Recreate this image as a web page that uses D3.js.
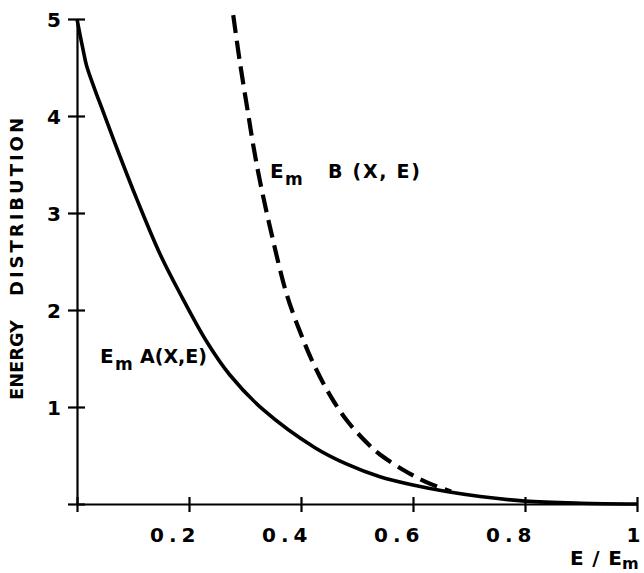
<!DOCTYPE html>
<html>
<head>
<meta charset="utf-8">
<script src="https://cdn.jsdelivr.net/npm/d3@7"></script>
<style>
  html, body { margin: 0; padding: 0; background: #fff; }
  svg { display: block; }
  text { font-family: "DejaVu Sans", sans-serif; font-weight: bold; fill: #000; }
</style>
</head>
<body>
<svg id="chart" width="644" height="573"></svg>
<script>
// ---- data ----
const xTicks = [0, 0.2, 0.4, 0.6, 0.8, 1];
const xTickLabels = ["", "0.2", "0.4", "0.6", "0.8", "1"];
const yTicks = [0, 1, 2, 3, 4, 5];
const yTickLabels = ["", "1", "2", "3", "4", "5"];

// E_m A(X,E) (solid)
const xA = [0, 0.005, 0.011, 0.017, 0.032, 0.047, 0.077, 0.107, 0.148, 0.184, 0.232, 0.273, 0.333, 0.425, 0.482, 0.541, 0.60, 0.66, 0.72, 0.80, 0.90, 1.0];
const yA = [5.0, 4.85, 4.68, 4.52, 4.27, 4.04, 3.58, 3.14, 2.58, 2.17, 1.67, 1.33, 0.97, 0.58, 0.41, 0.28, 0.195, 0.128, 0.077, 0.03, 0.008, 0.0];

// E_m B(X,E) (dashed)
const xB = [0.279, 0.291, 0.306, 0.315, 0.327, 0.348, 0.374, 0.398, 0.422, 0.452, 0.482, 0.523, 0.541, 0.589, 0.630, 0.668];
const yB = [5.04, 4.55, 4.01, 3.69, 3.32, 2.77, 2.17, 1.78, 1.45, 1.12, 0.86, 0.60, 0.51, 0.33, 0.21, 0.13];

const seriesA = xA.map((x, i) => ({x, y: yA[i]}));
const seriesB = xB.map((x, i) => ({x, y: yB[i]}));

const svg = d3.select("#chart");
const x = d3.scaleLinear().domain([0, 1]).range([77, 637]);
const y = d3.scaleLinear().domain([0, 5]).range([504, 19]);

// x axis
const gx = svg.append("g").attr("transform", `translate(0,${y(0)})`)
  .call(d3.axisBottom(x).tickValues(xTicks).tickSizeOuter(0).tickSizeInner(0)
    .tickFormat((d, i) => xTickLabels[i]));
gx.select(".domain").attr("stroke", "#000").attr("stroke-width", 2.2);
gx.selectAll(".tick line").attr("y1", -7).attr("y2", 8).attr("stroke", "#000").attr("stroke-width", 2.2);
gx.selectAll(".tick text")
  .attr("font-size", 20).attr("text-anchor", "end")
  .attr("letter-spacing", 5)
  .attr("x", d => d === 1 ? 8 : 11).attr("y", 38).attr("dy", 0)
  .style("font-family", "'DejaVu Sans', sans-serif").style("font-weight", "bold");

// y axis
const gy = svg.append("g").attr("transform", `translate(${x(0)},0)`)
  .call(d3.axisLeft(y).tickValues(yTicks).tickSizeOuter(0).tickSizeInner(0)
    .tickFormat((d, i) => yTickLabels[i]));
gy.select(".domain").attr("stroke", "#000").attr("stroke-width", 2.2);
gy.selectAll(".tick line").attr("x1", -9).attr("x2", 8).attr("stroke", "#000").attr("stroke-width", 2.2);
gy.selectAll(".tick text")
  .attr("font-size", 20).attr("text-anchor", "end")
  .attr("x", -16).attr("dy", "0.36em")
  .style("font-family", "'DejaVu Sans', sans-serif").style("font-weight", "bold");

// curves
const line = d3.line().x(d => x(d.x)).y(d => y(d.y)).curve(d3.curveCatmullRom.alpha(0.5));
svg.append("path").datum(seriesA).attr("d", line)
  .attr("fill", "none").attr("stroke", "#000").attr("stroke-width", 3.6);
svg.append("path").datum(seriesB).attr("d", line)
  .attr("fill", "none").attr("stroke", "#000").attr("stroke-width", 4.2)
  .attr("stroke-dasharray", "18,8");

// y axis title (two words, wide gap)
svg.append("text")
  .attr("transform", "translate(23,360) rotate(-90)")
  .attr("text-anchor", "middle").attr("font-size", 18)
  .attr("textLength", 80).attr("lengthAdjust", "spacingAndGlyphs")
  .text("ENERGY");
svg.append("text")
  .attr("transform", "translate(23,207) rotate(-90)")
  .attr("text-anchor", "middle").attr("font-size", 18)
  .attr("textLength", 178).attr("lengthAdjust", "spacing")
  .text("DISTRIBUTION");

// x axis title E / E_m
svg.append("text").attr("x", 570).attr("y", 565).attr("font-size", 20)
  .attr("textLength", 52).attr("lengthAdjust", "spacing").text("E / E");
svg.append("text").attr("x", 622).attr("y", 569).attr("font-size", 16).text("m");

// curve labels
svg.append("text").attr("x", 100).attr("y", 363).attr("font-size", 20).text("E");
svg.append("text").attr("x", 115).attr("y", 370).attr("font-size", 17).text("m");
svg.append("text").attr("x", 140).attr("y", 363).attr("font-size", 19)
  .attr("textLength", 67).attr("lengthAdjust", "spacingAndGlyphs").text("A(X,E)");

svg.append("text").attr("x", 270).attr("y", 178).attr("font-size", 20).text("E");
svg.append("text").attr("x", 285).attr("y", 185).attr("font-size", 17).text("m");
svg.append("text").attr("x", 328).attr("y", 178).attr("font-size", 19)
  .attr("textLength", 92).attr("lengthAdjust", "spacing").text("B (X, E)");
</script>
</body>
</html>
